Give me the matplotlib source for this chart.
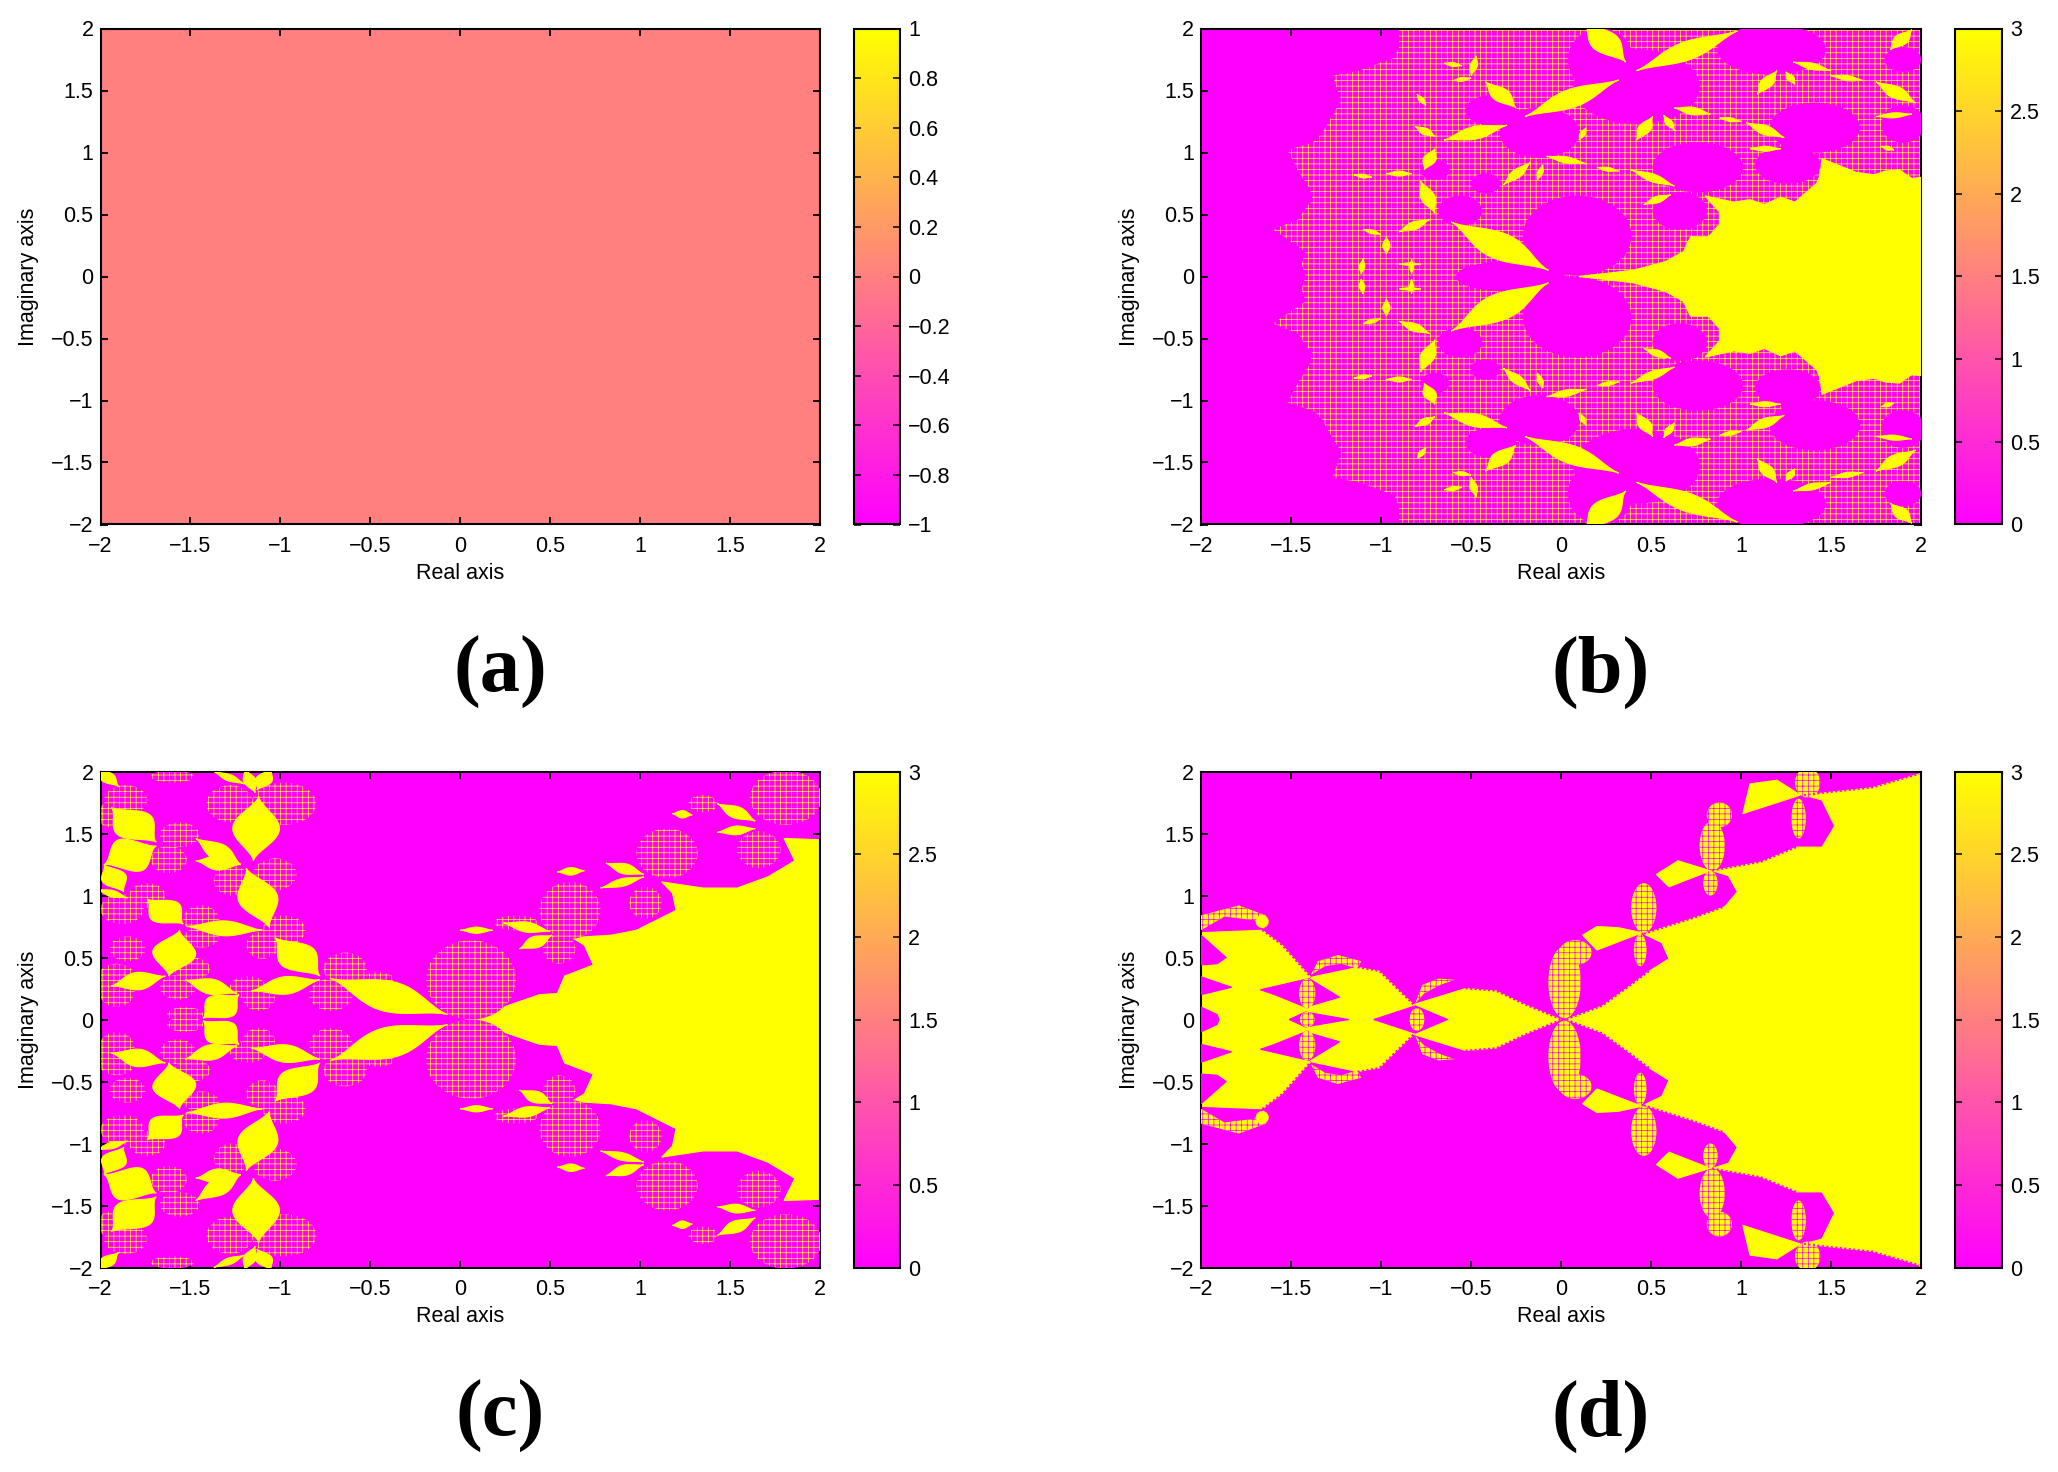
#!/usr/bin/env python3
"""Four basin-of-attraction panels, outlines read off the reference by eye."""
import numpy as np
import matplotlib
matplotlib.use("Agg")
import matplotlib.pyplot as plt
from matplotlib.cm import ScalarMappable
from matplotlib.colors import Normalize
from matplotlib.patches import Ellipse, Polygon

plt.rcParams["font.family"] = ["Liberation Sans", "DejaVu Sans"]
plt.rcParams["hatch.linewidth"] = 0.5

W, H = 2058, 1472
MAG, YEL = "#FF00FF", "#FFFF00"

AXIS_TICKS = [-2, -1.5, -1, -0.5, 0, 0.5, 1, 1.5, 2]
CBAR_A_TICKS = [-1, -0.8, -0.6, -0.4, -0.2, 0, 0.2, 0.4, 0.6, 0.8, 1]
CBAR_TICKS = [0, 0.5, 1, 1.5, 2, 2.5, 3]
PANEL_A_VALUE = 0.0

# ---- panel b, upper half (mirrored in y when drawn) ----
B_SPECKLE = [(-1.42, 0), (-1.44, .1), (-1.42, .2), (-1.5, .28), (-1.6, .38), (-1.46, .46), (-1.42, .55),
             (-1.38, .62), (-1.4, .72), (-1.46, .85), (-1.52, 1.02), (-1.38, 1.08), (-1.33, 1.15),
             (-1.27, 1.3), (-1.22, 1.42), (-1.27, 1.62), (-1.12, 1.66), (-1.05, 1.7), (-.93, 1.76),
             (-.9, 1.85), (-.9, 2), (2, 2), (2, 0)]
B_YELLOW = [(2, .8), (1.95, .79), (1.88, .86), (1.8, .85), (1.74, .82), (1.64, .84), (1.45, .95),
            (1.44, .82), (1.42, .75), (1.3, .6), (1.22, .64), (1.13, .58), (1.05, .62), (.96, .6),
            (.8, .65), (.88, .52), (.88, .42), (.82, .32), (.72, .32), (.68, .2), (.58, .12), (.4, .05),
            (.1, 0), (2, 0)]
# cx, cy, rx, ry
B_BLOBS = [(.09, .33, .3, .32), (.76, .88, .25, .2), (.66, .53, .15, .15), (1.26, .9, .18, .15),
           (1.41, 1.2, .25, .2), (1.9, 1.23, .12, .15), (.42, 1.53, .35, .3), (-.12, 1.16, .22, .2),
           (1.17, 1.83, .3, .2), (.22, 1.75, .18, .25), (-.56, .53, .12, .12), (-.7, .86, .08, .08),
           (-.42, .75, .08, .08), (-.28, 0, .3, .12), (-.39, 1.34, .14, .12), (1.9, 1.75, .1, .1)]
# x0, y0, x1, y1, width
B_SPIKES = [(-.61, .44, -.07, .05, .2), (-.2, 1.29, .32, 1.585, .14), (.42, 1.66, .98, 1.98, .14),
            (.13, 2.05, .36, 1.73, .16), (-.65, 1.1, -.3, 1.22, .1), (-.42, 1.57, -.25, 1.36, .1),
            (-.78, .77, -.7, .51, .08), (-.76, .86, -.7, 1.03, .07), (-.9, .36, -.73, .46, .06),
            (.39, .86, .63, .73, .06), (.46, .58, .61, .66, .05), (-.32, .74, -.17, .92, .06),
            (-.08, .97, .14, .91, .05), (.63, 1.36, .83, 1.31, .06), (.42, 1.1, .51, 1.29, .07),
            (1.03, 1.24, 1.24, 1.12, .07), (1.09, 1.47, 1.2, 1.66, .07), (1.29, 1.73, 1.5, 1.66, .05),
            (1.75, 1.57, 1.97, 1.4, .09), (1.75, 1.29, 1.95, 1.31, .04), (1.83, 1.83, 1.95, 1.99, .08),
            (1.05, 1.03, 1.22, 1.03, .04), (-.97, .83, -.83, .83, .04), (-.81, 1.21, -.7, 1.13, .05),
            (-.5, 1.62, -.47, 1.78, .04), (-.6, 1.58, -.5, 1.6, .03), (-.8, 1.47, -.75, 1.38, .03),
            (-.97, .18, -.97, .32, .04), (-1.11, .02, -1.1, .14, .03), (-.83, .02, -.83, .14, .02),
            (-.9, .1, -.78, .1, .02), (-.13, .78, -.1, .9, .03), (.2, .88, .32, .85, .03),
            (.1, 1.1, .14, 1.2, .03), (.88, 1.28, 1.0, 1.25, .03), (.57, 1.3, .63, 1.18, .04),
            (1.25, 1.65, 1.3, 1.55, .04), (1.5, 1.62, 1.68, 1.58, .04), (-1.1, .38, -1.0, .34, .03),
            (-1.15, .82, -1.05, .8, .03), (-.65, 1.72, -.55, 1.7, .03), (1.78, 1.05, 1.85, 1.02, .03)]

# ---- panel c, upper half ----
C_YELLOW = [(.04, 0), (.44, .2), (.54, .21), (.58, .35), (.74, .44), (.69, .6), (.62, .66),
            (.84, .68), (.98, .72), (1.2, .88), (1.18, 1.02), (1.12, 1.11), (1.35, 1.06),
            (1.54, 1.06), (1.71, 1.15), (1.86, 1.28), (1.8, 1.46), (2, 1.45), (2, 0)]
C_BALLS = [(.06, .32, .25, .32), (.55, .57, .09, .12), (.61, .88, .17, .23), (1.03, .94, .09, .13),
           (1.15, 1.34, .17, .2), (1.66, 1.37, .12, .15), (1.81, 1.79, .2, .22), (1.35, 1.74, .08, .07),
           (.31, .78, .12, .06), (-.72, .2, .12, .13), (-.64, .41, .12, .13), (-1.18, .26, .1, .09),
           (-1.12, .17, .09, .1), (-1.49, .41, .1, .09), (-1.57, .26, .1, .1), (-1.91, .35, .1, .1),
           (-1.91, .23, .1, .13), (-1.53, .04, .1, .06), (-.98, .72, .12, .12), (-1.1, .6, .09, .11),
           (-1.44, .81, .1, .11), (-1.44, .66, .1, .08), (-1.85, .57, .1, .1), (-1.74, 1.0, .1, .1),
           (-1.88, .89, .12, .12), (-1.03, 1.17, .12, .13), (-1.27, 1.12, .1, .12), (-1.56, 1.49, .11, .1),
           (-1.62, 1.29, .1, .11), (-1.86, 1.77, .12, .12), (-1.28, 1.74, .13, .15), (-.98, 1.74, .18, .17),
           (-1.6, 1.96, .12, .05), (-1.96, 1.65, .05, .1), (-.46, .33, .09, .05)]
C_SPIKES = [(-.07, .04, -.72, .33, .24), (-.78, .32, -1.16, .23, .14), (-1.23, .2, -1.43, .01, .2),
            (-1.24, .21, -1.53, .32, .12), (-1.64, .35, -1.94, .27, .14), (-1.62, .35, -1.56, .72, .24),
            (-1.52, .75, -1.1, .72, .12), (-1.74, .97, -1.54, .77, .2), (-1.03, .66, -.78, .35, .22),
            (-1.06, .74, -1.19, 1.22, .22), (-1.22, 1.25, -1.47, 1.28, .12), (-1.47, 1.46, -1.22, 1.25, .12),
            (-1.15, 1.28, -1.12, 1.8, .26), (-1.69, 1.4, -1.98, 1.25, .28), (-1.69, 1.43, -1.94, 1.71, .24),
            (-1.87, 1.03, -1.98, 1.25, .14), (-1.2, 2.02, -1.14, 1.83, .07), (-1.05, 2.02, -1.13, 1.85, .09),
            (-1.37, 2, -1.2, 1.9, .05), (-2.02, 2.02, -1.9, 1.88, .08), (-2.02, 1.05, -1.85, .98, .05),
            (.33, .57, .51, .68, .09), (.24, .78, .5, .71, .08), (0, .72, .18, .72, .05),
            (.78, 1.06, 1.02, 1.15, .06), (.81, 1.26, 1.02, 1.17, .08), (.54, 1.19, .69, 1.2, .06),
            (1.43, 1.51, 1.64, 1.54, .07), (1.43, 1.74, 1.64, 1.6, .09), (1.18, 1.66, 1.29, 1.65, .06)]

# ---- panel d, upper half ----
D_RIGHT = [(.03, 0), (.23, .11), (.4, .29), (.49, .39), (.6, .49), (.56, .62), (.46, .69),
           (.74, .82), (.91, .91), (.98, 1.03), (.93, 1.16), (.84, 1.2), (1.11, 1.27), (1.31, 1.39),
           (1.45, 1.39), (1.52, 1.56), (1.45, 1.77), (1.35, 1.81), (1.73, 1.87), (1.99, 1.98),
           (2, 2), (2, 0)]
D_LEFT = [(-2, .7), (-1.66, .72), (-1.55, .6), (-1.39, .34), (-1.13, .42), (-1.01, .39), (-.82, .12),
          (-.53, .25), (-.36, .23), (-.2, .12), (0, 0), (-2, 0)]
D_LOBES = [[(.12, .68), (.2, .75), (.32, .74), (.45, .7), (.2, .56)],
           [(.53, 1.17), (.65, 1.28), (.83, 1.2), (.6, 1.07)],
           [(1.01, 1.66), (1.05, 1.9), (1.2, 1.93), (1.33, 1.81)]]
D_DENSE = [(.02, .3, .09, .29), (.08, .54, .09, .1), (.46, .9, .07, .2), (.84, 1.4, .07, .2),
           (.88, 1.65, .07, .1), (1.37, 1.91, .07, .12)]
D_FINE = [(.44, .56, .035, .13), (.83, 1.1, .04, .1), (1.32, 1.62, .04, .16), (-.8, 0, .04, .09),
          (-1.41, .21, .045, .12), (-1.41, 0, .04, .06)]
D_DOTS = [(-1.66, .79, .035, .05)]
# magenta notches cut into the yellow on the left
D_NOTCHES = [[(-2, .68), (-1.86, .5), (-1.91, .45), (-2, .44)],
             [(-2, .345), (-1.83, .26), (-2, .2)],
             [(-2, .1), (-1.91, .04), (-1.9, 0), (-2, 0)],
             [(-1.67, .24), (-1.4, .33), (-1.23, .18), (-1.42, .1), (-1.59, .2)],
             [(-1.51, 0), (-1.42, .06), (-1.18, 0)],
             [(-1.04, 0), (-.81, .11), (-.63, 0)]]
D_ARCS = [[(-2, .84), (-1.79, .92), (-1.64, .84), (-1.65, .73), (-1.7, .8), (-1.87, .83), (-2, .72)],
          [(-1.39, .36), (-1.35, .47), (-1.24, .52), (-1.11, .47), (-1.13, .41), (-1.22, .45), (-1.31, .43)],
          [(-.81, .13), (-.77, .28), (-.68, .33), (-.59, .32), (-.67, .28), (-.76, .21)]]
D_CHAINS = [[(-1.66, .72), (-1.55, .6), (-1.39, .34)], [(-1.13, .42), (-1.01, .39), (-.82, .12)],
            [(-.53, .25), (-.36, .23), (-.2, .12), (0, 0)], [(.03, 0), (.23, .11), (.4, .29), (.49, .39)],
            [(.46, .69), (.74, .82), (.91, .91)], [(.84, 1.2), (1.11, 1.27), (1.31, 1.39)],
            [(1.35, 1.81), (1.73, 1.87), (1.99, 1.98)]]

# pixel boxes: left, top, right, bottom
BOXES = [(100.5, 28.5, 820, 524.5), (1201, 28.5, 1921, 524.5),
         (100.5, 771.5, 820, 1267.5), (1201, 771.5, 1921, 1267.5)]
CBOXES = [(854, 28.5, 900, 524.5), (1955, 28.5, 2002, 524.5),
          (854, 771.5, 900, 1267.5), (1955, 771.5, 2002, 1267.5)]
LABELS = ["(a)", "(b)", "(c)", "(d)"]
LABEL_POS = [(500, 672), (1601, 672), (500, 1416), (1601, 1416)]
FS = 15.5
GRAIN = "+++"


def px_axes(fig, box):
    l, t, r, b = box
    return fig.add_axes([l/W, 1-b/H, (r-l)/W, (b-t)/H])


def fmt(v):
    return ("%g" % v).replace("-", "\u2212")


def style(ax):
    ax.set_xlim(-2, 2); ax.set_ylim(-2, 2)
    ax.set_xticks(AXIS_TICKS); ax.set_yticks(AXIS_TICKS)
    ax.set_xticklabels([fmt(v) for v in AXIS_TICKS])
    ax.set_yticklabels([fmt(v) for v in AXIS_TICKS])
    ax.tick_params(direction="in", top=True, right=True, length=5, width=1.3, labelsize=FS)
    ax.tick_params(axis="x", pad=8.5)
    ax.tick_params(axis="y", pad=5)
    for s in ax.spines.values():
        s.set_linewidth(1.5)
    ax.set_xlabel("Real axis", fontsize=FS, va="center")
    ax.set_ylabel("Imaginary axis", fontsize=FS, va="center")
    ax.xaxis.set_label_coords(0.5, -0.099)
    ax.yaxis.set_label_coords(-0.1, 0.5)


def mirrored(pts):
    arr = np.array(pts, float)
    return [arr, arr * [1, -1]]


def fill(ax, pts, color, z=2):
    for p in mirrored(pts):
        ax.add_patch(Polygon(p, closed=True, fc=color, ec=color, lw=0.8, zorder=z))


def speckle_poly(ax, pts, fc=MAG, hc=YEL, hatch=GRAIN, z=2):
    for p in mirrored(pts):
        ax.add_patch(Polygon(p, closed=True, fc=fc, ec=hc, lw=0, hatch=hatch, zorder=z))


def ellipses(ax, items, color=None, fc=MAG, hc=YEL, hatch=GRAIN, z=3):
    for cx, cy, rx, ry in items:
        for sign in (1, -1):
            if color:
                ax.add_patch(Ellipse((cx, sign*cy), 2*rx, 2*ry, fc=color, ec=color, lw=0.3, zorder=z))
            else:
                ax.add_patch(Ellipse((cx, sign*cy), 2*rx, 2*ry, fc=fc, ec=hc, lw=0, hatch=hatch, zorder=z))


def spikes(ax, items, color=YEL, z=5):
    # petal shape between two tips, widest half way, tapered tips
    t = np.linspace(0, 1, 25)
    for x0, y0, x1, y1, w in items:
        dx, dy = x1-x0, y1-y0
        n = np.hypot(dx, dy)
        half = w/2*np.sin(np.pi*t)**1.6
        xs = x0 + dx*t; ys = y0 + dy*t
        up = np.c_[xs - dy/n*half, ys + dx/n*half]
        dn = np.c_[xs + dy/n*half, ys - dx/n*half]
        fill(ax, np.vstack([up, dn[::-1]]), color, z)


fig = plt.figure(figsize=(W/100, H/100), dpi=100)
axes = [px_axes(fig, b) for b in BOXES]
caxes = [px_axes(fig, b) for b in CBOXES]

# panel a is one flat value
axes[0].imshow(np.full((2, 2), PANEL_A_VALUE), cmap="spring", vmin=-1, vmax=1,
               extent=[-2, 2, -2, 2], aspect="auto")

# panel b
ax = axes[1]
ax.set_facecolor(MAG)
speckle_poly(ax, B_SPECKLE)
ellipses(ax, B_BLOBS, color=MAG)
fill(ax, B_YELLOW, YEL, 4)
spikes(ax, B_SPIKES)

# panel c
ax = axes[2]
ax.set_facecolor(MAG)
fill(ax, C_YELLOW, YEL, 2)
ellipses(ax, C_BALLS)
spikes(ax, C_SPIKES)

# panel d
ax = axes[3]
ax.set_facecolor(MAG)
fill(ax, D_RIGHT, YEL, 2)
fill(ax, D_LEFT, YEL, 2)
for lobe in D_LOBES:
    fill(ax, lobe, YEL, 3)
for notch in D_NOTCHES:
    fill(ax, notch, MAG, 3)
for arc in D_ARCS:
    speckle_poly(ax, arc, fc=YEL, hc=MAG, z=4)
ellipses(ax, D_DENSE, fc=YEL, hc=MAG, z=4)
ellipses(ax, D_FINE, fc=YEL, hc=MAG, z=4)
ellipses(ax, D_DOTS, color=YEL, z=5)
for chain in D_CHAINS:
    for p in mirrored(chain):
        ax.plot(p[:, 0], p[:, 1], color=MAG, lw=1.2, ls=(0, (1.2, 1.5)), zorder=4)

for i, ax in enumerate(axes):
    style(ax)
    if i == 0:
        sm = ScalarMappable(Normalize(-1, 1), "spring"); ticks = CBAR_A_TICKS
    else:
        sm = ScalarMappable(Normalize(0, 3), "spring"); ticks = CBAR_TICKS
    cb = fig.colorbar(sm, cax=caxes[i])
    cb.set_ticks(ticks)
    cb.set_ticklabels([fmt(v) for v in ticks])
    caxes[i].tick_params(direction="in", left=True, right=True, length=5, width=1.1,
                         labelsize=FS, pad=6)
    cb.outline.set_linewidth(1.5)
    fig.text(LABEL_POS[i][0]/W, 1-LABEL_POS[i][1]/H, LABELS[i], family="Liberation Serif",
             weight="bold", fontsize=58, ha="center", va="center")

fig.savefig("out.png", dpi=100)
